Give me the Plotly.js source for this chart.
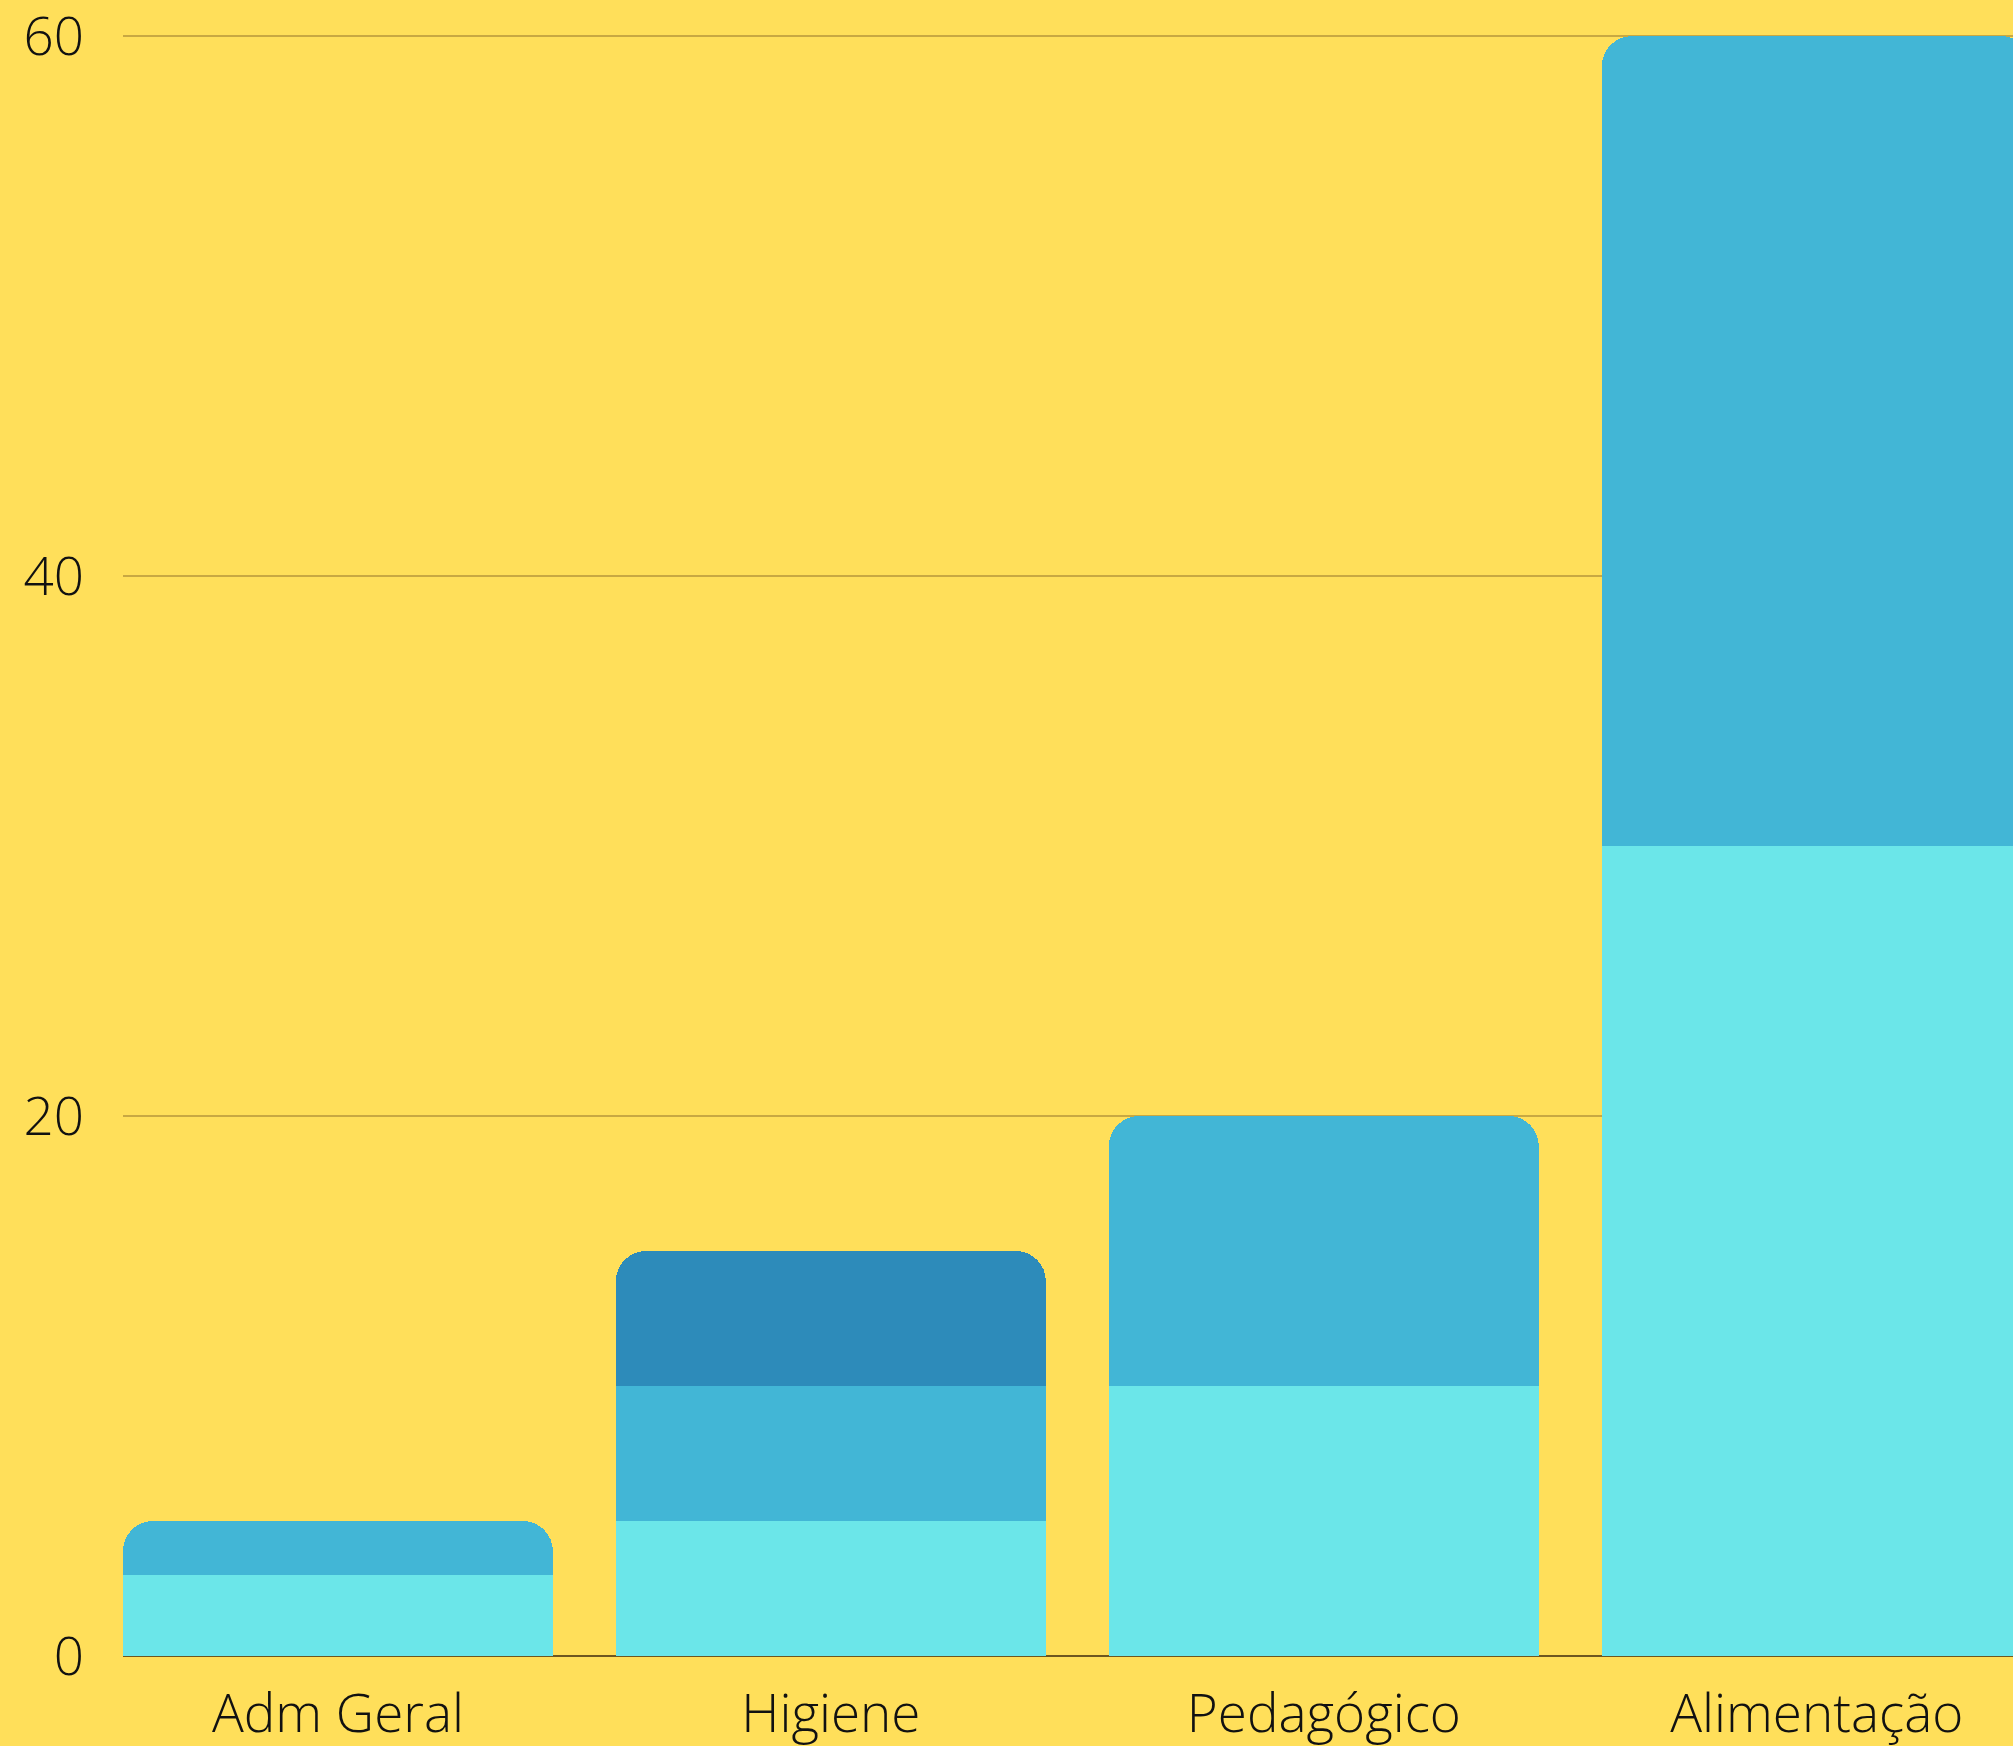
<!DOCTYPE html>
<html>
<head>
<meta charset="utf-8">
<script src="https://cdn.plot.ly/plotly-3.0.1.min.js"></script>
<style>
html,body{margin:0;padding:0;background:#FFDF5A;}
#chart{width:2013px;height:1746px;}
</style>
</head>
<body>
<div id="chart"></div>
<script>
const categories = ["Adm Geral", "Higiene", "Pedagógico", "Alimentação"];
const serie1 = [3, 5, 10, 30];
const serie2 = [2, 5, 10, 30];
const serie3 = [null, 5, null, null];
const yTicks = [0, 20, 40, 60];

const colors = ["#6BE6E9", "#42B6D6", "#2D8BBA"];
const series = [serie1, serie2, serie3];

const traces = series.map((vals, i) => ({
  type: "bar",
  x: categories,
  y: vals,
  name: "Série " + (i + 1),
  marker: {color: colors[i], line: {width: 0}},
  hoverinfo: "x+y"
}));

const layout = {
  width: 2013,
  height: 1746,
  paper_bgcolor: "#FFDF5A",
  plot_bgcolor: "#FFDF5A",
  barmode: "stack",
  bargap: 0.128,
  barcornerradius: 30,
  showlegend: false,
  margin: {l: 123, r: 0, t: 28, b: 90, pad: 0},
  font: {family: "Open Sans, sans-serif", size: 53, color: "#111111", weight: 300},
  xaxis: {
    type: "category",
    range: [-0.436, 3.398],
    showgrid: false,
    showline: false,
    zeroline: false,
    ticks: "",
    ticklabelstandoff: 22,
    ticklabeloverflow: "allow",
    tickfont: {family: "Open Sans, sans-serif", size: 53, color: "#111111", weight: 300},
    layer: "below traces",
    fixedrange: true
  },
  yaxis: {
    range: [0, 60.3],
    tickvals: yTicks,
    ticktext: yTicks.map(String),
    showgrid: true,
    gridcolor: "#C8A842",
    gridwidth: 1.5,
    zeroline: true,
    zerolinecolor: "#6E5720",
    zerolinewidth: 1.5,
    showline: false,
    ticks: "",
    ticklabelstandoff: 38,
    ticklabeloverflow: "allow",
    tickfont: {family: "Open Sans, sans-serif", size: 53, color: "#111111", weight: 300},
    layer: "below traces",
    fixedrange: true
  }
};

Plotly.newPlot("chart", traces, layout, {displayModeBar: false, staticPlot: true});
</script>
</body>
</html>
